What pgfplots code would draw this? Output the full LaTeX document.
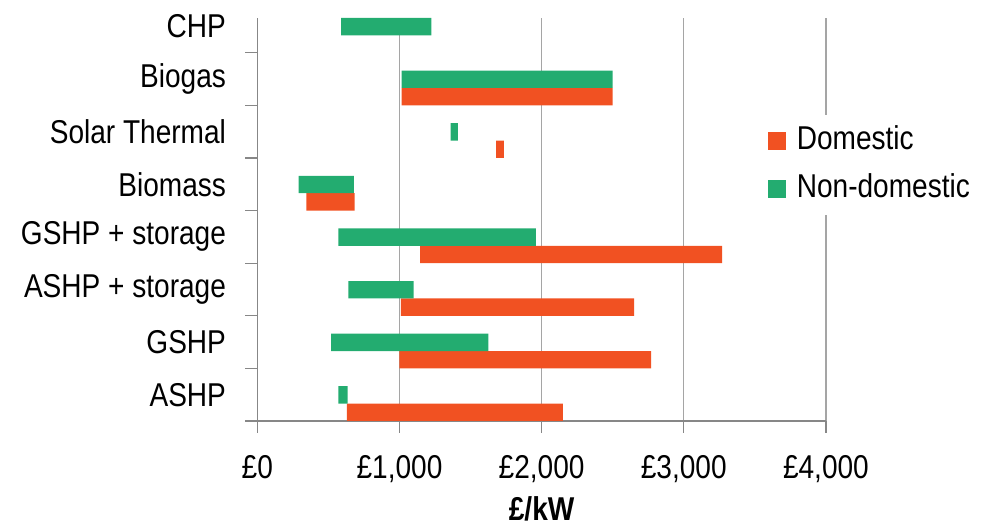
\documentclass[border=0pt]{standalone}
\usepackage{fontspec}
\setmainfont{Liberation Sans}[FakeStretch=0.85]
\usepackage{pgfplots}
\pgfplotsset{compat=1.18}

\definecolor{dom}{RGB}{241,81,34}
\definecolor{nondom}{RGB}{35,172,112}
\definecolor{gridgray}{RGB}{165,165,165}
\definecolor{axisgray}{RGB}{135,135,135}
\newcommand{\lab}{\fontsize{24.75}{28}\selectfont}

\begin{document}
\begin{tikzpicture}
\path[use as bounding box] (-193pt,-79.5pt) rectangle (542.8pt,315.75pt);
\begin{axis}[
  scale only axis, width=426.5pt, height=302.25pt,
  xmin=0, xmax=4000, ymin=-0.5, ymax=7.16,
  axis x line=bottom, axis y line=left,
  axis line style={-, axisgray, line width=0.9pt},
  xtick={0,1000,2000,3000,4000},
  xticklabels={£0,{£1,000},{£2,000},{£3,000},{£4,000}},
  xticklabel style={yshift=-13pt},
  ytick={-0.5,0.5,...,6.5}, yticklabels={},
  extra y ticks={0,1,2,3,4,5,6,7},
  extra y tick labels={ASHP,GSHP,ASHP + storage,GSHP + storage,Biomass,Solar Thermal,Biogas,CHP},
  extra y tick style={major tick length=0pt, yticklabel style={xshift=-20pt}},
  tick align=outside, major tick length=9pt,
  tick style={axisgray, line width=0.9pt},
  tick label style={font=\lab, text=black},
  xmajorgrids, grid style={gridgray, line width=0.9pt},
  xlabel={£/kW},
  xlabel style={font=\lab\bfseries, at={(axis description cs:0.5,-0.218)}, anchor=center},
  unbounded coords=jump,
  legend style={draw=none, fill=white, font=\lab,
    at={(axis description cs:0.898,0.636)}, anchor=west,
    inner xsep=0pt, inner ysep=6pt, row sep=9pt,
    nodes={inner ysep=2pt, inner xsep=8pt, text height=18pt, text depth=5pt},
    legend cell align=left},
  legend image code/.code={\fill[#1] (0pt,-6.75pt) rectangle (13.5pt,6.75pt);},
]
% Domestic cost ranges (lower half of each category band)
\addplot[fill=dom, draw=none] coordinates {
  (630,-0.5) (2150,-0.5) (2150,-0.17) (630,-0.17) (nan,nan)
  (1000,0.5) (2770,0.5) (2770,0.83) (1000,0.83) (nan,nan)
  (1010,1.5) (2650,1.5) (2650,1.83) (1010,1.83) (nan,nan)
  (1145,2.5) (3270,2.5) (3270,2.83) (1145,2.83) (nan,nan)
  (345,3.5) (685,3.5) (685,3.83) (345,3.83) (nan,nan)
  (1680,4.5) (1735,4.5) (1735,4.83) (1680,4.83) (nan,nan)
  (1015,5.5) (2500,5.5) (2500,5.83) (1015,5.83)
};
% Non-domestic cost ranges (upper half of each category band)
\addplot[fill=nondom, draw=none] coordinates {
  (570,-0.17) (635,-0.17) (635,0.16) (570,0.16) (nan,nan)
  (520,0.83) (1625,0.83) (1625,1.16) (520,1.16) (nan,nan)
  (640,1.83) (1100,1.83) (1100,2.16) (640,2.16) (nan,nan)
  (570,2.83) (1960,2.83) (1960,3.16) (570,3.16) (nan,nan)
  (290,3.83) (680,3.83) (680,4.16) (290,4.16) (nan,nan)
  (1360,4.83) (1410,4.83) (1410,5.16) (1360,5.16) (nan,nan)
  (1015,5.83) (2500,5.83) (2500,6.16) (1015,6.16) (nan,nan)
  (590,6.83) (1225,6.83) (1225,7.16) (590,7.16)
};
\legend{Domestic, Non-domestic}
\end{axis}
\end{tikzpicture}
\end{document}
